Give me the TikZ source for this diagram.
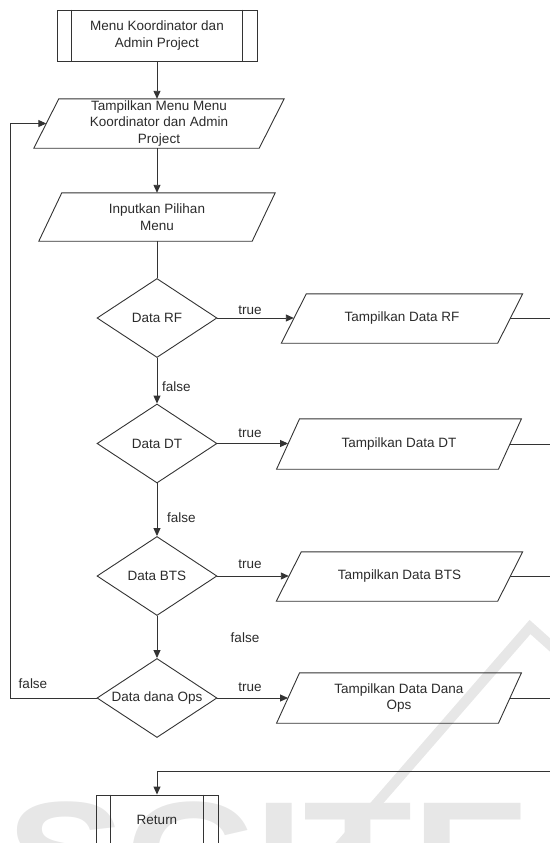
\documentclass[tikz,border=0pt]{standalone}
\usepackage{fontspec}
\setmainfont{Liberation Sans}
\usetikzlibrary{shapes.geometric,arrows.meta,calc}

\definecolor{ink}{HTML}{2B2B2B}
\definecolor{linecol}{HTML}{333333}
\definecolor{mark}{HTML}{E7E7E7}

% parallelogram (input/output) outline around a rectangular node
\newcommand{\ioframe}[2]{%
  \draw[flowline] ($(#1.north west)+(#2,0)$) -- ($(#1.north east)+(#2,0)$)
    -- ($(#1.south east)-(#2,0)$) -- ($(#1.south west)-(#2,0)$) -- cycle;}
% side bars of a predefined-process box
\newcommand{\subframe}[2]{%
  \draw[flowline] ($(#1.north west)+(#2,0)$) -- ($(#1.south west)+(#2,0)$)
                  ($(#1.north east)-(#2,0)$) -- ($(#1.south east)-(#2,0)$);}

\begin{document}
\begin{tikzpicture}[x=1pt, y=-1pt,
  font=\fontsize{13.5}{16.5}\selectfont, text=ink,
  flowline/.style={draw=linecol, line width=0.9pt},
  conn/.style={flowline, -{Triangle[length=8pt,width=7pt]}},
  iobox/.style={inner sep=0, minimum height=49pt, align=center},
  procbox/.style={draw=linecol, line width=0.9pt, inner sep=0, align=center},
  decision/.style={diamond, draw=linecol, line width=0.9pt, aspect=1.5,
                   minimum width=120pt, minimum height=79pt, inner sep=0},
  lbl/.style={inner sep=0}]

\useasboundingbox (0,0) rectangle (549,843);

% publisher watermark
\node[anchor=north west, inner sep=0, text=mark,
      font=\fontsize{150}{150}\selectfont\bfseries] (wmark) at (6,802)
      {\scalebox{1.19}[1]{SCITE}};
\draw[draw=mark, line width=10pt, line join=miter] (336,850) -- (530,627) -- (578,670);

% start
\node[procbox, minimum width=200pt, minimum height=51pt] (start) at (157,35.5)
  {Menu Koordinator dan\\Admin Project};
\subframe{start}{15}

% menu display and input
\node[iobox, minimum width=225pt] (menu) at (159,123.5)
  {Tampilkan Menu Menu\\Koordinator dan Admin\\Project};
\ioframe{menu}{12.5}
\node[iobox, minimum width=213pt, minimum height=48pt] (choice) at (157,217)
  {Inputkan Pilihan\\Menu};
\ioframe{choice}{11.5}

% decisions
\node[decision] (qrf)  at (157,318)   {Data RF};
\node[decision] (qdt)  at (157,443.5) {Data DT};
\node[decision] (qbts) at (157,576)   {Data BTS};
\node[decision] (qops) at (157,698)   {Data dana Ops};

% outputs
\node[iobox, minimum width=216pt] (orf) at (402,318.5) {Tampilkan Data RF};
\ioframe{orf}{12.5}
\node[iobox, minimum width=221.5pt, minimum height=50pt] (odt) at (399,444) {Tampilkan Data DT};
\ioframe{odt}{11.5}
\node[iobox, minimum width=221pt] (obts) at (399.5,576.5) {Tampilkan Data BTS};
\ioframe{obts}{12.5}
\node[iobox, minimum width=221.5pt, minimum height=50pt] (oops) at (399,698) {Tampilkan Data Dana\\Ops};
\ioframe{oops}{11.5}

% return
\node[procbox, minimum width=122pt, minimum height=52pt] (ret) at (157,821)
  {\raisebox{2pt}{Return}};
\subframe{ret}{15}

% main flow
\draw[conn] (start.south) -- (start.south |- menu.north);
\draw[conn] (choice.north |- menu.south) -- (choice.north);
\draw[flowline] (choice.south) -- (qrf.north);
\draw[conn] (qrf.south) -- (qdt.north);
\draw[conn] (qdt.south) -- (qbts.north);
\draw[conn] (qbts.south) -- (qops.north);

% true branches
\draw[conn] (qrf.east)  -- (qrf.east -| orf.west);
\draw[conn] (qdt.east)  -- (qdt.east -| odt.west);
\draw[conn] (qbts.east) -- (qbts.east -| obts.west);
\draw[conn] (qops.east) -- (qops.east -| oops.west);

% outputs leave to the right and come back to Return
\coordinate (rim) at (556,0);
\draw[flowline] (orf.east)  -- (orf.east -| rim);
\draw[flowline] (odt.east)  -- (odt.east -| rim);
\draw[flowline] (obts.east) -- (obts.east -| rim);
\draw[flowline] (oops.east) -- (oops.east -| rim);
\coordinate (back) at (556,771);
\draw[conn] (back) -| (ret.north);

% loop back to the menu
\coordinate (loop) at (10.7,698);
\draw[conn] (qops.west) -- (loop) |- (menu.west);

% labels
\node[lbl] (trf)  at (250,310) {true};
\node[lbl] (tdt)  at (250,433) {true};
\node[lbl] (tbts) at (250,564) {true};
\node[lbl] (tops) at (250,687) {true};
\node[lbl, anchor=west] (frf) at (162,387) {false};
\node[lbl, anchor=west] (fdt) at (167,518) {false};
\node[lbl] (fbts) at (245,638) {false};
\node[lbl] (fops) at (33,684) {false};

\end{tikzpicture}
\end{document}
